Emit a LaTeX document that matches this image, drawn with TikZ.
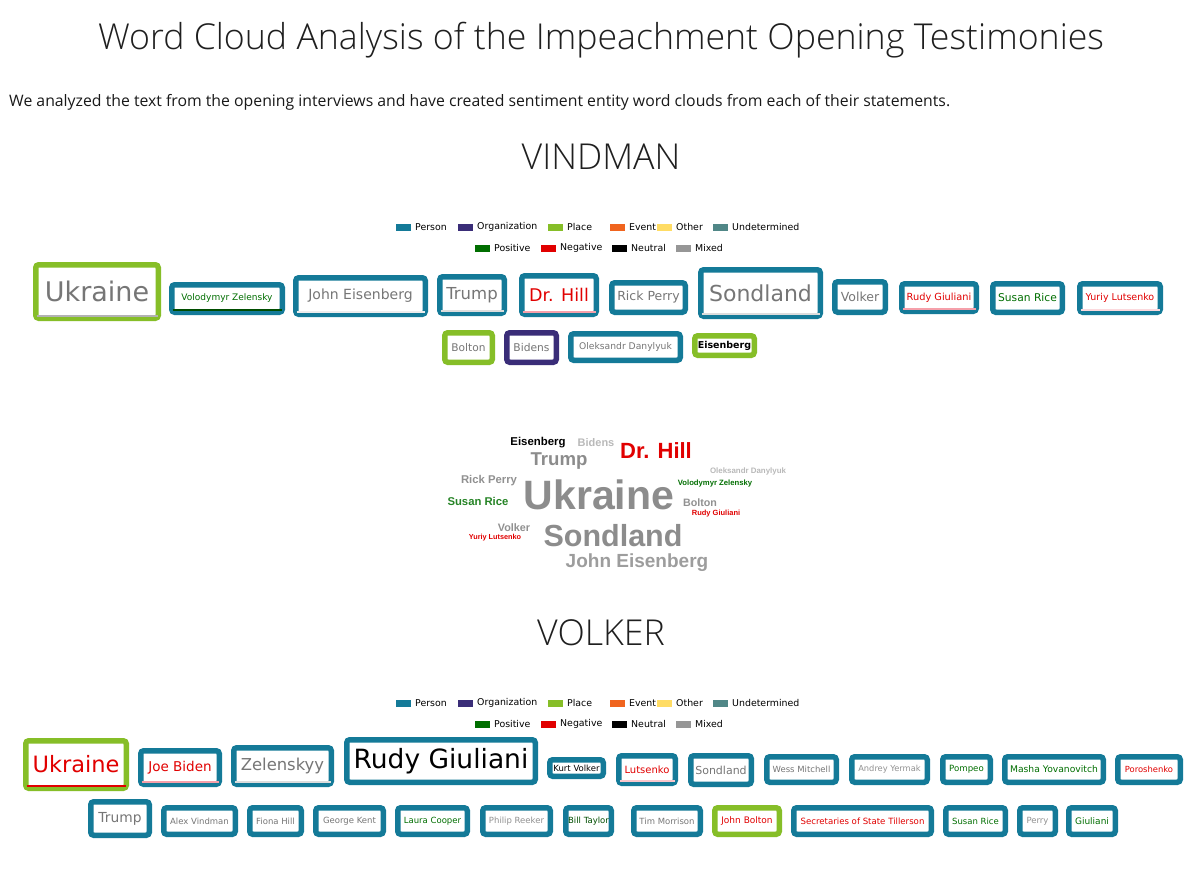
\documentclass[tikz,border=0pt]{standalone}
\usepackage{fontspec}
\setmainfont{Open Sans}
\newfontfamily\titlefont{Open Sans Light}
\newfontfamily\boxfont{DejaVu Sans}
\newfontfamily\wcfont{Liberation Sans}
\definecolor{cperson}{RGB}{20,122,152}
\definecolor{corg}{RGB}{58,45,120}
\definecolor{cplace}{RGB}{134,190,40}
\definecolor{cevent}{RGB}{240,100,30}
\definecolor{cother}{RGB}{255,220,100}
\definecolor{cundet}{RGB}{80,135,135}
\definecolor{cpos}{RGB}{0,110,0}
\definecolor{cneg}{RGB}{225,0,0}
\definecolor{cmixed}{RGB}{150,150,150}
\definecolor{tgray}{RGB}{118,118,118}
\definecolor{tlgray}{RGB}{145,145,145}
\definecolor{cpink}{RGB}{245,160,170}
\definecolor{cfaint}{RGB}{220,220,220}
\definecolor{wgray}{RGB}{140,140,140}
\definecolor{wlgray}{RGB}{185,185,185}
\tikzset{
  ebox/.style={draw=#1, line width=5.5pt, rounded corners=3pt, fill=white, inner sep=0pt},
  lgsq/.style={fill=#1, draw=none, minimum width=15pt, minimum height=7pt, inner sep=0pt},
  lgtxt/.style={anchor=west, inner sep=0pt, text=black, font=\boxfont\fontsize{9.4}{9.4}\selectfont},
  wcword/.style={inner sep=0pt},
  heading/.style={inner sep=0pt, text=black!88, font=\titlefont\fontsize{35.7}{35.7}\selectfont}
}
\newcommand\ebox[9]{\node[ebox=#6, text=#7, minimum width={(#4-#2-5.5)*1pt}, minimum height={(#5-#3-5.5)*1pt}, font=\boxfont\fontsize{#8}{#8}\selectfont] (#1) at ({(#2+#4)/2},{(#3+#5)/2}) {#9};}
\newcommand\ebline[2]{\draw[#2, line width=2pt] ([xshift=3.5pt,yshift=5pt]#1.south west) -- ([xshift=-3.5pt,yshift=5pt]#1.south east);}
\newcommand\lgitem[5]{\node[lgsq=#4] (#1s) at ({#2+7.5},#3) {}; \node[lgtxt] (#1t) at ({#2+19},#3) {#5};}
\newcommand\legendrows[2]{%
  \lgitem{#1a}{396}{#2}{cperson}{Person}
  \lgitem{#1b}{458}{#2}{corg}{Organization}
  \lgitem{#1c}{548}{#2}{cplace}{Place}
  \lgitem{#1d}{610}{#2}{cevent}{Event}
  \lgitem{#1e}{657}{#2}{cother}{Other}
  \lgitem{#1f}{713}{#2}{cundet}{Undetermined}
  \lgitem{#1g}{475}{#2+21}{cpos}{Positive}
  \lgitem{#1h}{541}{#2+21}{cneg}{Negative}
  \lgitem{#1i}{612}{#2+21}{black}{Neutral}
  \lgitem{#1j}{676}{#2+21}{cmixed}{Mixed}
}
\newcommand\wcw[6]{\node[wcword, text=#4, font=\wcfont\bfseries\fontsize{#5}{#5}\selectfont] (#1) at (#2,#3) {#6};}
\begin{document}
\begin{tikzpicture}[x=1pt,y=-1pt]
\fill[white] (0,0) rectangle (1200,880);
\useasboundingbox (0,0) rectangle (1200,880);

\node[heading] (title) at (601,40) {Word Cloud Analysis of the Impeachment Opening Testimonies};
\node[inner sep=0pt, anchor=west, text=black!90, font=\fontsize{15.8}{15.8}\selectfont] (sub) at (9,102) {We analyzed the text from the opening interviews and have created sentiment entity word clouds from each of their statements.};
\node[heading] (vind) at (601,157) {VINDMAN};
\node[heading] (volk) at (601,633) {VOLKER};

% legends
\legendrows{la}{227}
\legendrows{lb}{703}

% Vindman boxes
\ebox{v1}{33}{262}{161}{321}{cplace}{tgray}{27}{Ukraine}
\ebline{v1}{tlgray!70}
\ebox{v2}{169}{282}{285}{315}{cperson}{cpos}{9}{Volodymyr Zelensky}
\ebline{v2}{cpos!70!black}
\ebox{v3}{293}{275}{428}{317}{cperson}{tgray}{14}{John Eisenberg}
\ebline{v3}{cfaint!50}
\ebox{v4}{437}{274}{507}{316}{cperson}{tgray}{16.5}{Trump}
\ebline{v4}{cfaint}
\ebox{v5}{519}{273}{599}{317}{cperson}{cneg}{17.5}{Dr. Hill}
\ebline{v5}{cpink}
\ebox{v6}{609}{280}{688}{315}{cperson}{tgray}{12.5}{Rick Perry}
\ebox{v7}{698}{267}{823}{319}{cperson}{tgray}{22}{Sondland}
\ebline{v7}{cfaint}
\ebox{v8}{832}{279}{888}{315}{cperson}{tgray}{12.5}{Volker}
\ebox{v9}{899}{281}{979}{314}{cperson}{cneg}{9.8}{Rudy Giuliani}
\ebline{v9}{cpink}
\ebox{v10}{990}{281}{1065}{315}{cperson}{cpos}{10.7}{Susan Rice}
\ebox{v11}{1077}{281}{1163}{315}{cperson}{cneg}{9.5}{Yuriy Lutsenko}
\ebline{v11}{cpink!40}
\ebox{v12}{442}{330}{495}{365}{cplace}{tgray}{10.6}{Bolton}
\ebox{v13}{504}{330}{559}{365}{corg}{tgray}{10.7}{Bidens}
\ebox{v14}{568}{331}{683}{363}{cperson}{tgray}{9.2}{Oleksandr Danylyuk}
\ebox{v15}{692}{333}{757}{358}{cplace}{black}{9.5}{\bfseries Eisenberg}

% word cloud
\wcw{w1}{599}{495}{wgray}{41}{Ukraine}
\wcw{w2}{613}{536}{wgray}{30.5}{Sondland}
\wcw{w3}{637}{563}{wgray!85}{19}{John Eisenberg}
\wcw{w4}{559}{461}{wgray}{18.6}{Trump}
\wcw{w5}{656}{451}{cneg}{22}{Dr. Hill}
\wcw{w6}{538}{443}{black}{11.4}{Eisenberg}
\wcw{w7}{596}{443}{wlgray}{11}{Bidens}
\wcw{w8}{748}{471}{wlgray}{7.9}{Oleksandr Danylyuk}
\wcw{w9}{489}{481}{tlgray}{11.3}{Rick Perry}
\wcw{w10}{715}{484}{cpos}{7.7}{Volodymyr Zelensky}
\wcw{w11}{478}{501}{cpos!85}{11.3}{Susan Rice}
\wcw{w12}{700}{503}{tlgray}{10.7}{Bolton}
\wcw{w13}{716}{514}{cneg}{7.5}{Rudy Giuliani}
\wcw{w14}{514}{528}{tlgray}{10.8}{Volker}
\wcw{w15}{495}{538}{cneg}{7.3}{Yuriy Lutsenko}

% Volker boxes
\ebox{k1}{23}{738}{129}{791}{cplace}{cneg}{22.5}{Ukraine}
\ebline{k1}{cneg}
\ebox{k2}{138}{748}{222}{787}{cperson}{cneg}{13.5}{Joe Biden}
\ebline{k2}{cpink}
\ebox{k3}{231}{745}{334}{787}{cperson}{tgray}{16.4}{Zelenskyy}
\ebline{k3}{cfaint}
\ebox{k4}{344}{737}{538}{785}{cperson}{black}{26.5}{Rudy Giuliani}
\ebox{k5}{547}{757}{606}{779}{cperson}{black}{8.5}{Kurt Volker}
\ebox{k6}{616}{753}{678}{786}{cperson}{cneg}{10}{Lutsenko}
\ebline{k6}{cpink!60}
\ebox{k7}{688}{753}{754}{787}{cperson}{tgray}{11}{Sondland}
\ebox{k8}{764}{754}{839}{785}{cperson}{tgray}{8.5}{Wess Mitchell}
\ebox{k9}{849}{754}{930}{785}{cperson}{tlgray}{8.3}{Andrey Yermak}
\ebox{k10}{940}{754}{993}{785}{cperson}{cpos}{8.6}{Pompeo}
\ebox{k11}{1002}{754}{1106}{785}{cperson}{cpos}{9.2}{Masha Yovanovitch}
\ebox{k12}{1115}{754}{1183}{785}{cperson}{cneg}{8.4}{Poroshenko}

\ebox{k13}{88}{799}{152}{838}{cperson}{tgray}{13.8}{Trump}
\ebox{k14}{161}{805}{238}{837}{cperson}{tgray}{8.5}{Alex Vindman}
\ebox{k15}{247}{805}{304}{837}{cperson}{tgray}{8.5}{Fiona Hill}
\ebox{k16}{313}{805}{386}{837}{cperson}{tgray}{8.5}{George Kent}
\ebox{k17}{395}{805}{470}{837}{cperson}{cpos}{8.5}{Laura Cooper}
\ebox{k18}{480}{805}{553}{837}{cperson}{tlgray}{8.5}{Philip Reeker}
\ebox{k19}{563}{805}{614}{837}{cperson}{cpos!70!black}{8.5}{Bill Taylor}
\ebox{k20}{631}{805}{703}{837}{cperson}{tgray}{8.5}{Tim Morrison}
\ebox{k21}{712}{805}{782}{837}{cplace}{cneg}{9}{John Bolton}
\ebox{k22}{791}{805}{934}{837}{cperson}{cneg}{8.6}{Secretaries of State Tillerson}
\ebox{k23}{943}{805}{1008}{837}{cperson}{cpos}{8.5}{Susan Rice}
\ebox{k24}{1017}{805}{1058}{837}{cperson}{tlgray}{8.5}{Perry}
\ebox{k25}{1066}{805}{1118}{837}{cperson}{cpos}{9}{Giuliani}
\end{tikzpicture}
\end{document}
